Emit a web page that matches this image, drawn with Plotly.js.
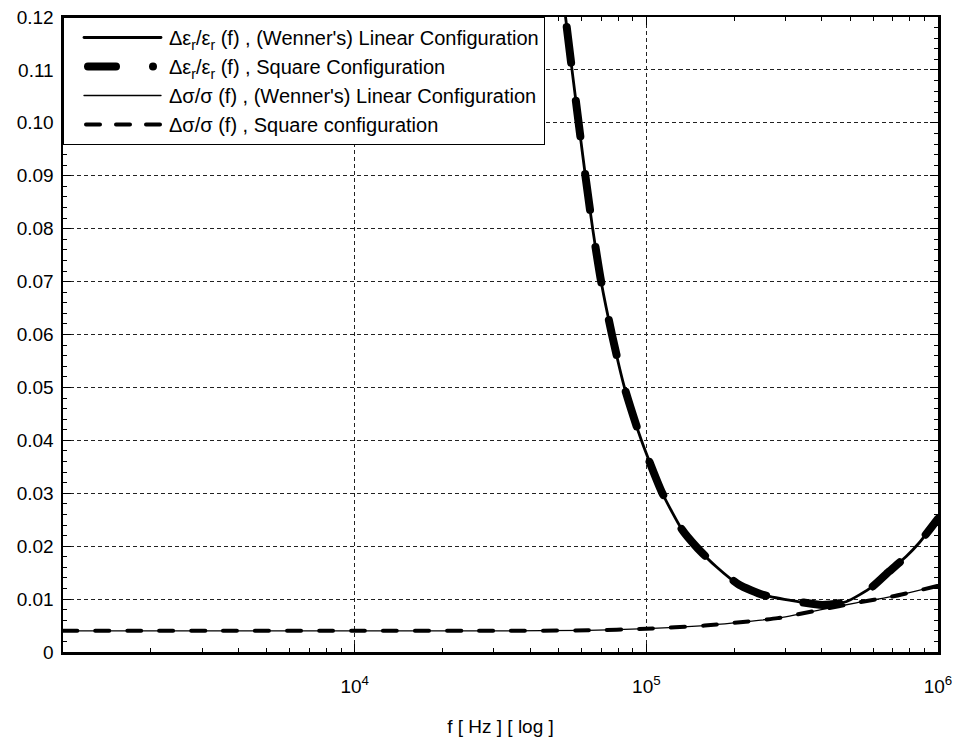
<!DOCTYPE html>
<html>
<head>
<meta charset="utf-8">
<script src="https://cdn.plot.ly/plotly-3.0.1.min.js"></script>
<style>
  html, body { margin: 0; padding: 0; background: #fff; }
  #chart { width: 959px; height: 747px; }
  .scatterlayer .js-line, .legend .js-line { stroke-linecap: round; }
</style>
</head>
<body>
<div id="chart"></div>
<script>
// Frequencies [Hz] and relative errors
const freqEps = [50119, 52845, 59429, 61802, 65464, 69984, 76208, 84140, 96161, 113500, 132700, 148300, 173800, 208000, 251200, 309000, 400900, 484200, 594300, 679200, 776200, 861000, 1000000];
const epsWenner = [0.132, 0.120, 0.0973, 0.090, 0.080, 0.070, 0.060, 0.050, 0.040, 0.030, 0.0231, 0.0199, 0.0161, 0.0127, 0.0108, 0.0098, 0.0089, 0.0095, 0.0123, 0.0152, 0.0180, 0.0206, 0.0252];
const epsSquare = [0.132, 0.120, 0.0973, 0.090, 0.080, 0.070, 0.060, 0.050, 0.040, 0.030, 0.0231, 0.0199, 0.0161, 0.0127, 0.0108, 0.0098, 0.0089, 0.0095, 0.0123, 0.0152, 0.0180, 0.0206, 0.0252];

const freqSigma = [1000, 3162, 10000, 31623, 63096, 100000, 158489, 199526, 281838, 398107, 524807, 691831, 1000000];
const sigmaWenner = [0.0040, 0.0040, 0.0040, 0.0040, 0.0041, 0.0044, 0.0050, 0.0055, 0.0064, 0.0080, 0.0093, 0.01045, 0.0125];
const sigmaSquare = [0.0040, 0.0040, 0.0040, 0.0040, 0.0041, 0.0044, 0.0050, 0.0055, 0.0064, 0.0080, 0.0093, 0.01045, 0.0125];

const seriesNames = [
  "Δε<sub>r</sub>/ε<sub>r</sub> (f) , (Wenner's) Linear Configuration",
  "Δε<sub>r</sub>/ε<sub>r</sub> (f) , Square Configuration",
  "Δσ/σ (f) , (Wenner's) Linear Configuration",
  "Δσ/σ (f) , Square configuration"
];

const yTickVals = [0, 0.01, 0.02, 0.03, 0.04, 0.05, 0.06, 0.07, 0.08, 0.09, 0.10, 0.11, 0.12];
const yTickText = ["0", "0.01", "0.02", "0.03", "0.04", "0.05", "0.06", "0.07", "0.08", "0.09", "0.10", "0.11", "0.12"];
const xTickVals = [1e4, 1e5, 1e6];
const xTickText = ["10<sup>4</sup>", "10<sup>5</sup>", "10<sup>6</sup>"];

// minor ticks 2..9 in each decade
const xMinor = [];
[1e3, 1e4, 1e5].forEach(d => { for (let k = 2; k <= 9; k++) xMinor.push(k * d); });

const traces = [
  { x: freqEps, y: epsWenner, name: seriesNames[0], mode: 'lines',
    line: { color: '#000', width: 2.8, shape: 'spline', smoothing: 0.6 } },
  { x: freqEps, y: epsSquare, name: seriesNames[1], mode: 'lines',
    line: { color: '#000', width: 8, dash: '36px,38px', shape: 'spline', smoothing: 0.6 } },
  { x: freqSigma, y: sigmaWenner, name: seriesNames[2], mode: 'lines',
    line: { color: '#000', width: 1.3, shape: 'spline', smoothing: 0.6 } },
  { x: freqSigma, y: sigmaSquare, name: seriesNames[3], mode: 'lines',
    line: { color: '#000', width: 4, dash: '14px,18px', shape: 'spline', smoothing: 0.6 } }
];

const font = { family: 'Liberation Sans, Arial, sans-serif', color: '#000' };

const layout = {
  width: 959, height: 747,
  margin: { l: 63, r: 21, t: 17, b: 95 },
  paper_bgcolor: '#fff', plot_bgcolor: '#fff',
  font: Object.assign({ size: 19 }, font),
  showlegend: true,
  legend: {
    x: 0, y: 1, xanchor: 'left', yanchor: 'top',
    bgcolor: '#fff', bordercolor: '#000', borderwidth: 1,
    font: Object.assign({ size: 20 }, font),
    itemwidth: 95, tracegroupgap: 0
  },
  xaxis: {
    type: 'log', range: [3, 6],
    tickmode: 'array', tickvals: xTickVals, ticktext: xTickText,
    ticks: 'inside', ticklen: 8, tickwidth: 1, tickcolor: '#000',
    ticklabelstandoff: 16,
    showline: true, linecolor: '#000', linewidth: 2.5, mirror: 'allticks',
    showgrid: true, gridcolor: '#222', gridwidth: 1, griddash: '4px,3px',
    zeroline: false,
    minor: { tickmode: 'array', tickvals: xMinor, ticks: 'inside', ticklen: 4, tickcolor: '#000', showgrid: false },
    tickfont: Object.assign({ size: 19 }, font),
    title: { text: 'f [ Hz ] [ log ]', font: Object.assign({ size: 19 }, font), standoff: 24 }
  },
  yaxis: {
    range: [0, 0.12],
    tickmode: 'array', tickvals: yTickVals, ticktext: yTickText,
    ticks: 'inside', ticklen: 8, tickwidth: 1, tickcolor: '#000',
    ticklabelstandoff: 3,
    showline: true, linecolor: '#000', linewidth: 2.5, mirror: 'allticks',
    showgrid: true, gridcolor: '#222', gridwidth: 1, griddash: '4px,3px',
    zeroline: false,
    minor: { tick0: 0, dtick: 0.002, ticks: 'inside', ticklen: 4, tickcolor: '#000', showgrid: false },
    tickfont: Object.assign({ size: 19 }, font)
  }
};

Plotly.newPlot('chart', traces, layout, { displayModeBar: false, staticPlot: true }).then(gd => {
  // longer legend line samples, as in the reference
  const samples = [
    { d: 'M20,0h77', dash: null },
    { d: 'M24,0h70', dash: '28px,37px,0px,100px' },
    { d: 'M20,0h77', dash: null },
    { d: 'M22,0h74', dash: '14px,16px' }
  ];
  gd.querySelectorAll('.legend .traces').forEach((g, i) => {
    const p = g.querySelector('.legendlines path');
    if (!p || !samples[i]) return;
    p.setAttribute('d', samples[i].d);
    if (samples[i].dash) p.style.strokeDasharray = samples[i].dash;
  });
});
</script>
</body>
</html>
